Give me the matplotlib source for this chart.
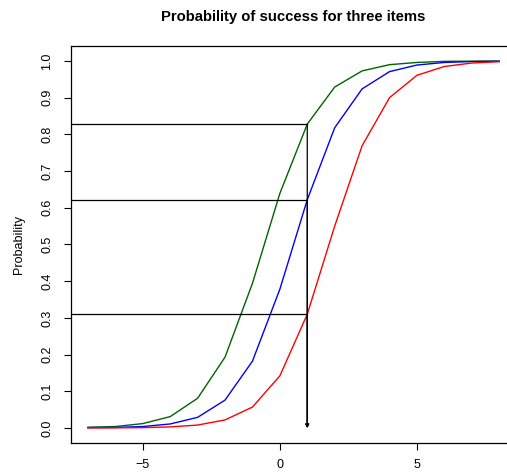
import numpy as np
import matplotlib
matplotlib.use("Agg")
import matplotlib.pyplot as plt

plt.rcParams['font.family'] = ['Liberation Sans', 'DejaVu Sans']

# ability values on the x axis
theta = [-7, -6, -5, -4, -3, -2, -1, 0, 1, 2, 3, 4, 5, 6, 7, 8]

# probability of success for the three items
p_green = [0.002, 0.004, 0.012, 0.031, 0.081, 0.193, 0.394, 0.639,
           0.828, 0.929, 0.973, 0.990, 0.996, 0.999, 0.9995, 0.9998]
p_blue = [0.001, 0.0015, 0.004, 0.011, 0.029, 0.076, 0.182, 0.378,
          0.622, 0.818, 0.924, 0.971, 0.989, 0.996, 0.9985, 0.9994]
p_red = [0.0002, 0.0004, 0.001, 0.003, 0.008, 0.022, 0.057, 0.142,
         0.310, 0.550, 0.769, 0.900, 0.961, 0.985, 0.9945, 0.998]

theta_mark = 1
p_mark = [0.828, 0.622, 0.310]

fig = plt.figure(figsize=(5.07, 4.76), dpi=100)
ax = fig.add_axes([0.141, 0.070, 0.876, 0.8327])

ax.plot(theta, p_green, color='#006400', lw=1)
ax.plot(theta, p_blue, color='blue', lw=1)
ax.plot(theta, p_red, color='red', lw=1)

xlo, xhi = -7.6, 8.6
ax.set_xlim(xlo, xhi)
ax.set_ylim(-0.04, 1.04)

# guide lines at theta = 1
for p in p_mark:
    ax.plot([xlo, theta_mark], [p, p], color='black', lw=0.9)
    ax.annotate('', xy=(theta_mark, 0.0), xytext=(theta_mark, p),
                arrowprops=dict(arrowstyle='->', color='black', lw=0.9,
                                mutation_scale=5, shrinkA=0, shrinkB=0))

ax.set_xticks([-5, 0, 5])
ax.set_xticklabels(['\u22125', '0', '5'])
ax.set_yticks(np.arange(0, 1.01, 0.1))
ax.set_yticklabels(['%.1f' % v for v in np.arange(0, 1.01, 0.1)],
                   rotation=90, va='center')
ax.tick_params(axis='both', direction='out', length=5, width=0.8,
               labelsize=9, color='black')
ax.tick_params(axis='x', pad=7)
ax.tick_params(axis='y', pad=8)
for s in ax.spines.values():
    s.set_linewidth(0.9)

ax.set_ylabel('Probability', fontsize=9, labelpad=12)
fig.text(0.578, 0.964, 'Probability of success for three items',
         ha='center', va='center', fontsize=10.7, fontweight='bold')

fig.savefig('out.png', dpi=100)
